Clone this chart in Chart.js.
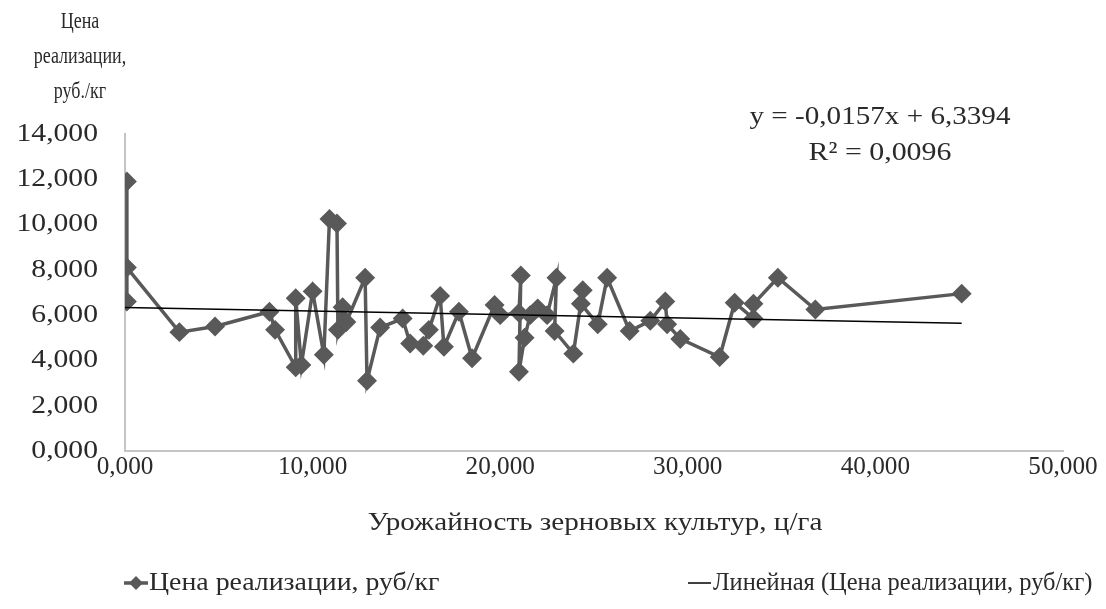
<!DOCTYPE html>
<html>
<head>
<meta charset="utf-8">
<script src="https://cdn.jsdelivr.net/npm/chart.js@4.4.1/dist/chart.umd.min.js"></script>
<style>
  html,body{margin:0;padding:0;background:#fff;}
  #wrap{width:1106px;height:609px;position:relative;}
</style>
</head>
<body>
<div id="wrap"><canvas id="chart" width="1106" height="609"></canvas></div>
<script>

/* ============================================================
   DANNYE
============================================================ */

// урожайность, ц/га
const urozhai=[
    0.1,0.1,0.1,2.9,4.8,7.7,8.0,9.1,9.1,9.4,
    10.0,10.6,10.9,11.3,11.35,11.6,11.8,12.8,12.9,13.6,
    14.8,15.2,15.9,16.2,16.8,17.0,17.8,18.5,19.7,20.0,
    21.0,21.1,21.0,21.3,21.6,22.0,22.5,23.0,22.9,23.9,
    24.4,24.3,25.2,25.7,26.9,28.0,28.8,28.9,29.6,31.7,
    32.5,33.5,33.5,34.8,36.8,44.6
];

// цена реализации, руб/кг
const tsena=[
    11.9,6.6,8.1,5.25,5.5,6.15,5.35,3.7,6.75,3.8,
    7.05,4.25,10.25,10.05,5.35,6.35,5.7,7.65,3.1,5.45,
    5.85,4.75,4.65,5.35,6.85,4.6,6.15,4.1,6.45,6.0,
    6.1,7.75,3.5,5.0,6.0,6.3,6.0,7.65,5.3,4.3,
    7.1,6.5,5.6,7.65,5.3,5.75,6.6,5.6,4.95,4.15,
    6.55,5.85,6.5,7.65,6.25,6.95
];

// линейный тренд: концы линии
const trendX=[0,44.6];
const trendY=[6.34,5.64];

const xTicks=[0,10,20,30,40,50];
const yTicks=[0,2,4,6,8,10,12,14];

const seriesName="Цена реализации, руб/кг";
const trendName="Линейная (Цена реализации, руб/кг)";
const xTitle="Урожайность зерновых культур, ц/га";
const yTitle=["Цена","реализации,","руб./кг"];
const equation=["y = -0,0157x + 6,3394","R² = 0,0096"];


/* ============================================================
   HELPERS
============================================================ */

const SERIF="'Liberation Serif','Times New Roman',serif";
const TXT="#2a2a2a";
const GRAY="#595959";

function fmt(v){
    return v.toFixed(3).replace(".",",");
}

function toPoints(xs,ys){
    return xs.map((x,i)=>({x:x,y:ys[i]}));
}

// text drawn with a horizontal stretch, like in the original picture
function txt(ctx,s,x,y,align,sx){
    ctx.save();
    ctx.translate(x,y);
    ctx.scale(sx,1);
    ctx.textAlign=align;
    ctx.fillText(s,0,0);
    ctx.restore();
}


/* ============================================================
   TEKSTY I LEGENDA
============================================================ */

const extraText={
    id:"extraText",
    afterDraw(chart){
        const ctx=chart.ctx;
        const sx=chart.scales.x;
        const sy=chart.scales.y;
        ctx.save();
        ctx.fillStyle=TXT;
        ctx.font="26px "+SERIF;
        ctx.textBaseline="middle";

        // tick labels
        xTicks.forEach(v=>{
            txt(ctx,fmt(v),sx.getPixelForValue(v),467,"center",0.97);
        });
        yTicks.forEach(v=>{
            txt(ctx,fmt(v),98,sy.getPixelForValue(v),"right",1.14);
        });

        // x title
        txt(ctx,xTitle,595,523,"center",1.12);

        // equation
        txt(ctx,equation[0],880,117,"center",1.12);
        txt(ctx,equation[1],880,153,"center",1.15);

        // y title
        ctx.font="24px "+SERIF;
        yTitle.forEach((t,i)=>{
            txt(ctx,t,80,22+i*35,"center",0.75);
        });

        // legend
        const ly=583;
        ctx.strokeStyle=GRAY;
        ctx.lineWidth=3.5;
        ctx.beginPath();
        ctx.moveTo(124,ly);
        ctx.lineTo(148,ly);
        ctx.stroke();
        ctx.fillStyle=GRAY;
        ctx.beginPath();
        ctx.moveTo(136,ly-7);
        ctx.lineTo(143,ly);
        ctx.lineTo(136,ly+7);
        ctx.lineTo(129,ly);
        ctx.closePath();
        ctx.fill();

        ctx.strokeStyle="#000";
        ctx.lineWidth=1.5;
        ctx.beginPath();
        ctx.moveTo(688,ly);
        ctx.lineTo(711,ly);
        ctx.stroke();

        ctx.fillStyle=TXT;
        ctx.font="26px "+SERIF;
        txt(ctx,seriesName,149,ly,"left",1.07);
        txt(ctx,trendName,713,ly,"left",0.94);

        ctx.restore();
    }
};


/* ============================================================
   GRAFIK
============================================================ */

new Chart(document.getElementById("chart"),{

    type:"scatter",

    data:{
        datasets:[{
            label:seriesName,
            data:toPoints(urozhai,tsena),
            showLine:true,
            borderColor:GRAY,
            backgroundColor:GRAY,
            borderWidth:3.5,
            pointStyle:"rectRot",
            pointRadius:7.5,
            pointHoverRadius:7.5,
            order:2
        },{
            label:trendName,
            data:toPoints(trendX,trendY),
            showLine:true,
            borderColor:"#000000",
            borderWidth:1.5,
            pointRadius:0,
            order:1
        }]
    },

    options:{
        responsive:false,
        animation:false,
        layout:{
            padding:{left:0,right:43,top:134,bottom:0}
        },
        plugins:{
            legend:{display:false},
            tooltip:{enabled:false}
        },
        scales:{
            x:{
                type:"linear",
                min:0,
                max:50,
                afterFit:(s)=>{s.height=158;},
                afterBuildTicks:(s)=>{s.ticks=xTicks.map(v=>({value:v}));},
                grid:{display:false,drawTicks:false},
                border:{display:true,color:"#c4c4c4",width:2},
                ticks:{display:false}
            },
            y:{
                type:"linear",
                min:0,
                max:14,
                afterFit:(s)=>{s.width=125;},
                afterBuildTicks:(s)=>{s.ticks=yTicks.map(v=>({value:v}));},
                grid:{display:false,drawTicks:false},
                border:{display:true,color:"#c4c4c4",width:2},
                ticks:{display:false}
            }
        }
    },

    plugins:[extraText]

});

</script>
</body>
</html>
